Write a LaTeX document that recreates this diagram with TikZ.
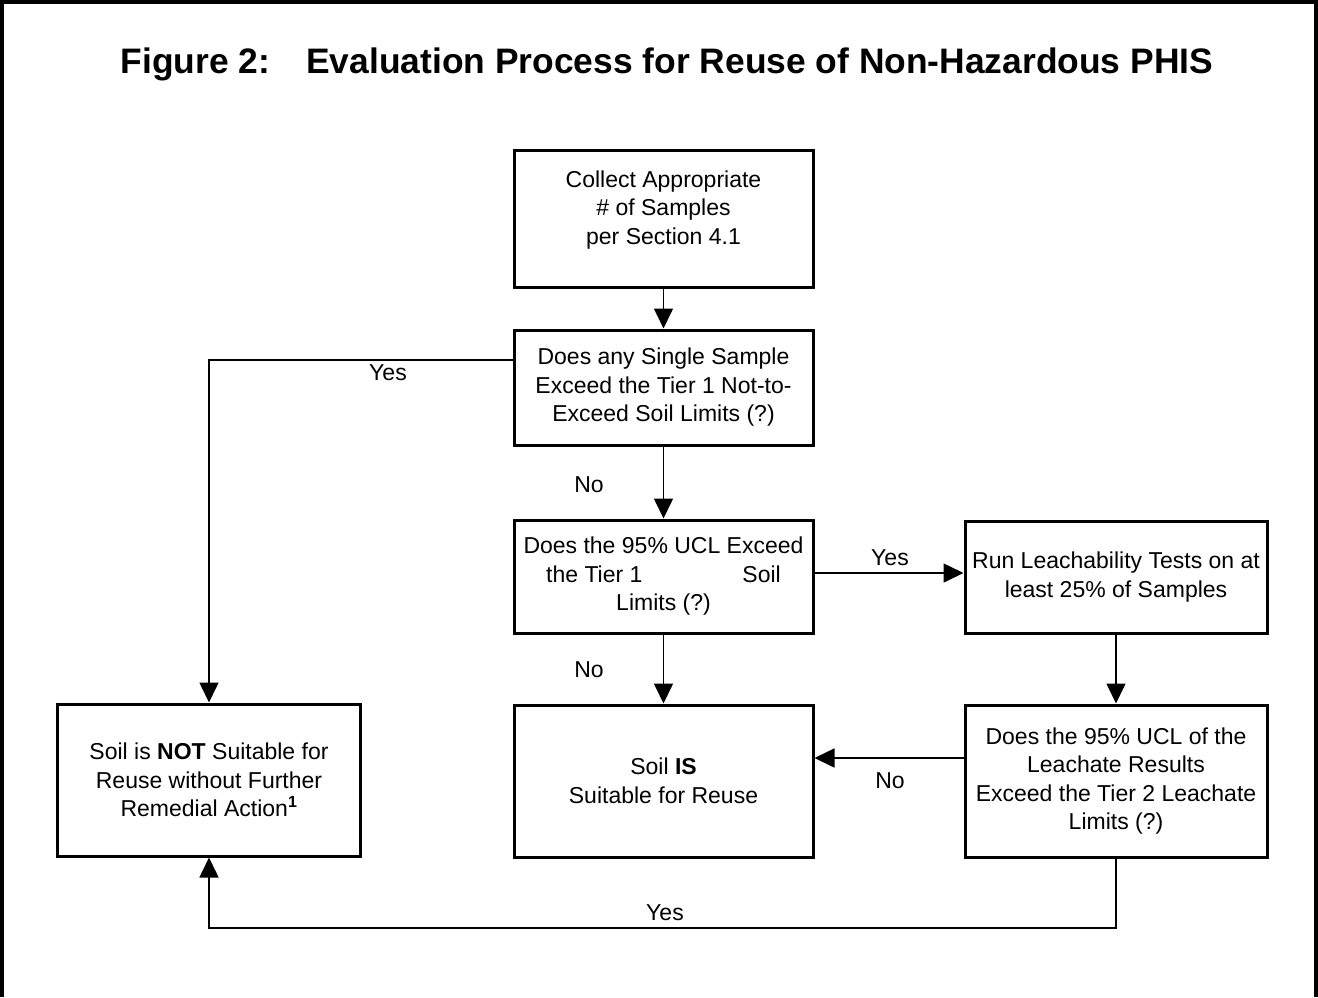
\documentclass[tikz,border=0pt]{standalone}
\usepackage{fontspec}
\setmainfont{Liberation Sans}
\usetikzlibrary{arrows.meta,calc}
\begin{document}
\begin{tikzpicture}[x=1pt,y=-1pt,
  box/.style={draw,line width=3pt,align=center,inner sep=2pt,
    font=\fontsize{23}{28.5}\selectfont},
  conn/.style={line width=1.6pt},
  arr/.style={conn,-{Triangle[length=20pt,width=19pt]}},
  lbl/.style={font=\fontsize{23}{28}\selectfont,inner sep=0pt}]
\useasboundingbox (0,0) rectangle (1318,997);
\draw[line width=4pt] (2,997) -- (2,2) -- (1316,2) -- (1316,997);
\node[font=\bfseries\fontsize{35.4}{40}\selectfont] (title) at (667,64)
  {Figure 2:\hspace{36pt}Evaluation Process for Reuse of Non-Hazardous PHIS};
\node[box,minimum width=299pt,minimum height=137pt] (b1) at (663.5,218.5)
  {Collect Appropriate\\\# of Samples\\per Section 4.1\\[-6pt]\mbox{}};
\node[box,minimum width=299pt,minimum height=115pt] (b2) at (663.5,387.5)
  {Does any Single Sample\\Exceed the Tier 1 Not-to-\\Exceed Soil Limits (?)};
\node[box,minimum width=299pt,minimum height=113pt] (b3) at (663.5,576.5)
  {Does the 95\% UCL Exceed\\the Tier 1\hspace{100pt}Soil\\Limits (?)};
\node[box,minimum width=302pt,minimum height=112pt] (b4) at (1116,577)
  {Run Leachability Tests on at\\least 25\% of Samples};
\node[box,minimum width=299pt,minimum height=152pt] (b5) at (663.5,781)
  {Soil \textbf{IS}\\Suitable for Reuse};
\node[box,minimum width=302pt,minimum height=152pt] (b6) at (1116,781)
  {Does the 95\% UCL of the\\Leachate Results\\Exceed the Tier 2 Leachate\\Limits (?)};
\node[box,minimum width=303pt,minimum height=152pt] (b7) at (209,780)
  {Soil is \textbf{NOT} Suitable for\\Reuse without Further\\Remedial Action\textsuperscript{\textbf{1}}};
\coordinate (yesrow) at (0,360);
\coordinate (ucrow) at (0,573);
\coordinate (norow) at (0,758);
\coordinate (botrow) at (0,928);
\draw[arr] (b1) -- (b2);
\draw[arr] (b2.west |- yesrow) -| (b7.north);
\draw[arr] (b2) -- (b3);
\draw[arr] (b3.east |- ucrow) -- (b4.west |- ucrow);
\draw[arr] (b3) -- (b5);
\draw[arr] (b4) -- (b6);
\draw[arr] (b6.west |- norow) -- (b5.east |- norow);
\draw[arr] (b6.south) -- (b6.south |- botrow) -| (b7.south);
\node[lbl] (l1) at (388,373) {Yes};
\node[lbl] (l2) at (589,485) {No};
\node[lbl] (l3) at (890,558) {Yes};
\node[lbl] (l4) at (589,670) {No};
\node[lbl] (l5) at (890,781) {No};
\node[lbl] (l6) at (665,913) {Yes};
\end{tikzpicture}
\end{document}
